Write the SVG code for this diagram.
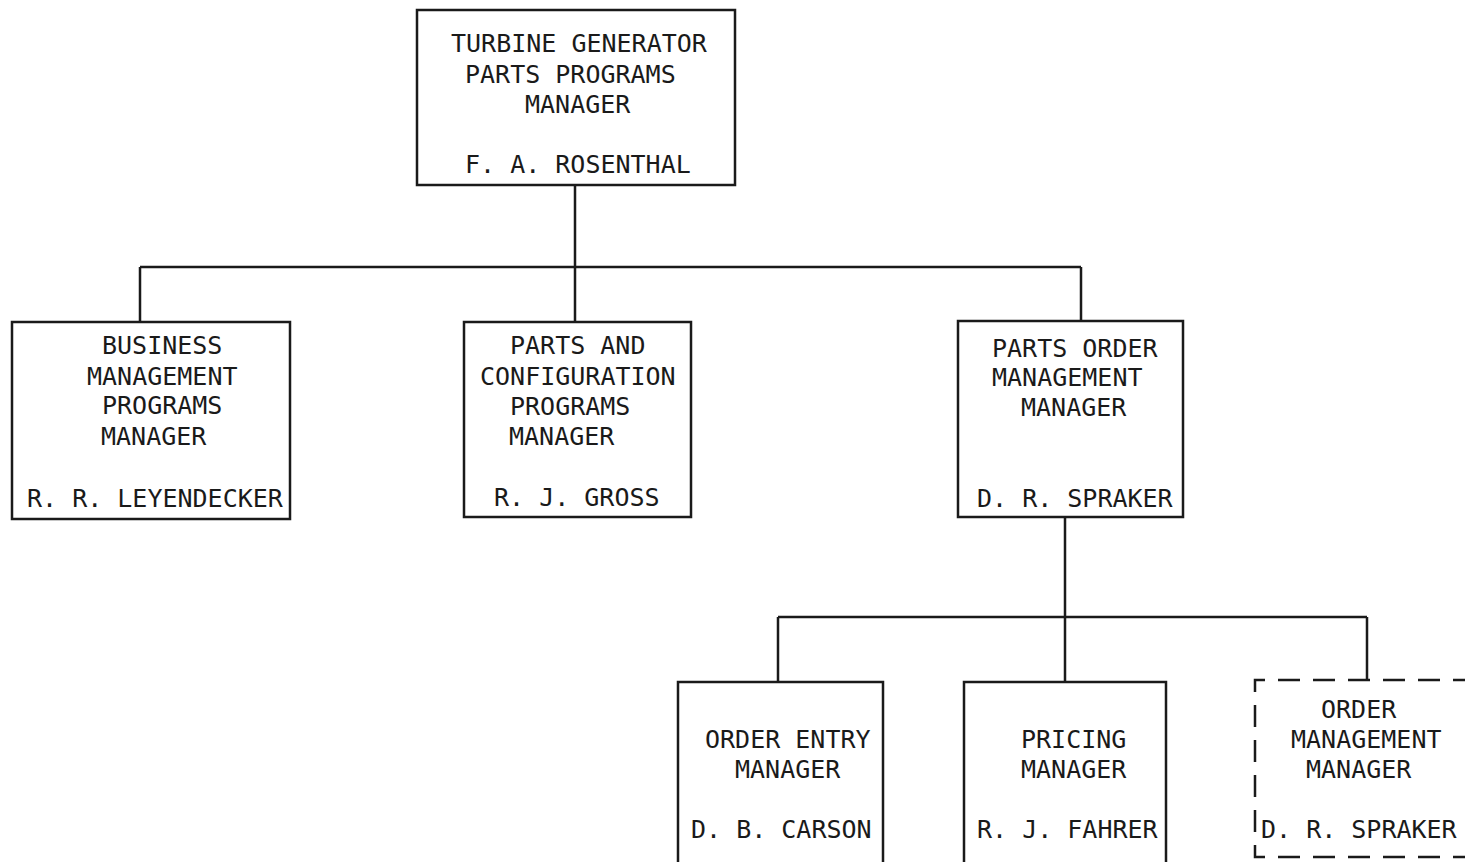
<svg xmlns="http://www.w3.org/2000/svg" width="1465" height="862" viewBox="0 0 1465 862">
<style>
.box{fill:#fff;stroke:#1a1a1a;stroke-width:2.5}
.dash{fill:none;stroke:#1a1a1a;stroke-width:2.5;stroke-dasharray:22 13}
.ln{fill:none;stroke:#1a1a1a;stroke-width:2.5}
text{font-family:"DejaVu Sans Mono","Liberation Mono",monospace;font-size:25px;fill:#1a1a1a}
</style>
<rect width="1465" height="862" fill="#fff"/>
<g id="connectors">
<path class="ln" d="M575,185 V267 M140,267 H1081 M140,267 V322 M575,267 V322 M1081,267 V321"/>
<path class="ln" d="M1065,517 V617 M778,617 H1367 M778,617 V682 M1065,617 V682 M1367,617 V680"/>
</g>
<g id="n-rosenthal">
<rect class="box" x="417" y="10" width="318" height="175"/>
<text x="451" y="52">TURBINE GENERATOR</text>
<text x="465" y="83">PARTS PROGRAMS</text>
<text x="525" y="113">MANAGER</text>
<text x="465" y="173">F. A. ROSENTHAL</text>
</g>
<g id="n-leyendecker">
<rect class="box" x="12" y="322" width="278" height="197"/>
<text x="102" y="354">BUSINESS</text>
<text x="87" y="385">MANAGEMENT</text>
<text x="102" y="414">PROGRAMS</text>
<text x="101" y="445">MANAGER</text>
<text x="27" y="507">R. R. LEYENDECKER</text>
</g>
<g id="n-gross">
<rect class="box" x="464" y="322" width="227" height="195"/>
<text x="510" y="354">PARTS AND</text>
<text x="480" y="385">CONFIGURATION</text>
<text x="510" y="415">PROGRAMS</text>
<text x="509" y="445">MANAGER</text>
<text x="494" y="506">R. J. GROSS</text>
</g>
<g id="n-spraker">
<rect class="box" x="958" y="321" width="225" height="196"/>
<text x="992" y="357">PARTS ORDER</text>
<text x="992" y="386">MANAGEMENT</text>
<text x="1021" y="416">MANAGER</text>
<text x="977" y="507">D. R. SPRAKER</text>
</g>
<g id="n-carson">
<rect class="box" x="678" y="682" width="205" height="185"/>
<text x="705" y="748">ORDER ENTRY</text>
<text x="735" y="778">MANAGER</text>
<text x="691" y="838">D. B. CARSON</text>
</g>
<g id="n-fahrer">
<rect class="box" x="964" y="682" width="202" height="185"/>
<text x="1021" y="748">PRICING</text>
<text x="1021" y="778">MANAGER</text>
<text x="977" y="838">R. J. FAHRER</text>
</g>
<g id="n-spraker2">
<path class="dash" d="M1475,680 H1255 V857 H1475"/>
<text x="1321" y="718">ORDER</text>
<text x="1291" y="748">MANAGEMENT</text>
<text x="1306" y="778">MANAGER</text>
<text x="1261" y="838">D. R. SPRAKER</text>
</g>
</svg>
